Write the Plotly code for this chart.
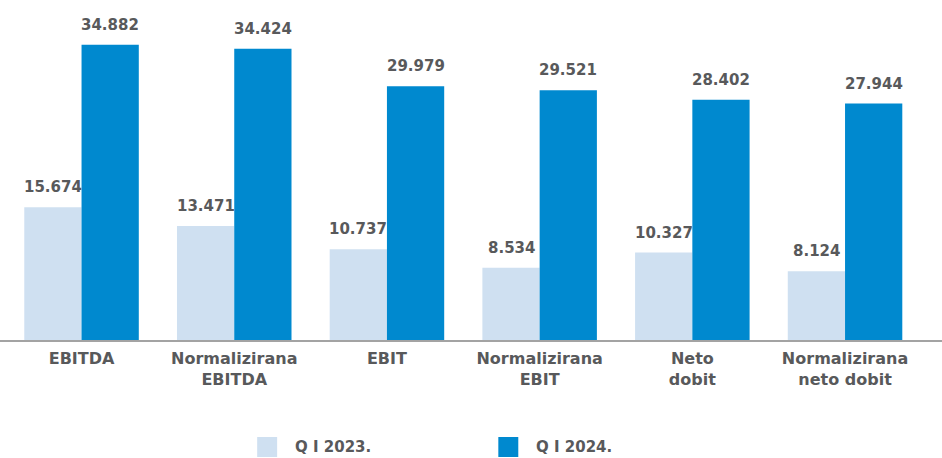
import plotly.graph_objects as go

categories = ["EBITDA", "Normalizirana<br>EBITDA", "EBIT", "Normalizirana<br>EBIT",
              "Neto<br>dobit", "Normalizirana<br>neto dobit"]
q1_2023 = [15674, 13471, 10737, 8534, 10327, 8124]
q1_2024 = [34882, 34424, 29979, 29521, 28402, 27944]
series_names = ["Q I 2023.", "Q I 2024."]
series_colors = ["#cfe0f1", "#0089cf"]

text_color = "#58595b"
value_font = dict(family="DejaVu Sans", size=15, color=text_color, weight="bold")

fig = go.Figure()
for name, values, color in zip(series_names, [q1_2023, q1_2024], series_colors):
    fig.add_trace(go.Bar(x=categories, y=values, name=name,
                         marker=dict(color=color, line=dict(width=0)),
                         showlegend=False))

# value labels sit a bit higher above the bars than plotly's own outside text
bargap = 0.25
px_per_cat = 152.7
half_bar = (1 - bargap) / 4 * px_per_cat
for k, values in enumerate([q1_2023, q1_2024]):
    for cat, v in zip(categories, values):
        fig.add_annotation(x=cat, y=v, text=f"{v:,}".replace(",", "."),
                           showarrow=False, yanchor="bottom",
                           xshift=(-half_bar if k == 0 else half_bar), yshift=9,
                           font=value_font)

# legend drawn by hand so the swatches match the big squares of the original
legend_x = [0.273, 0.529]
for name, color, lx in zip(series_names, series_colors, legend_x):
    fig.add_shape(type="rect", xref="paper", yref="paper",
                  x0=lx, x1=lx + 0.0212, y0=-0.3545, y1=-0.294,
                  fillcolor=color, line=dict(width=0))
    fig.add_annotation(xref="paper", yref="paper", x=lx + 0.038, y=-0.324,
                       xanchor="left", yanchor="middle", showarrow=False,
                       text=name, font=value_font)

fig.update_layout(
    width=942, height=458,
    margin=dict(l=0, r=0, t=10, b=118),
    paper_bgcolor="white", plot_bgcolor="white",
    barmode="group", bargap=bargap, bargroupgap=0,
    font=dict(family="DejaVu Sans", color=text_color),
    xaxis=dict(
        range=[-0.534, 5.635],
        showline=True, linecolor="#a3a3a3", linewidth=2,
        showgrid=False, ticks="", ticklabelstandoff=3,
        tickfont=dict(family="DejaVu Sans", size=16, color=text_color, weight="bold"),
    ),
    yaxis=dict(range=[0, 39000], visible=False),
    showlegend=False,
)

fig.write_html("out.html", config={"displayModeBar": False},
               post_script="document.body.style.margin='0px';")
